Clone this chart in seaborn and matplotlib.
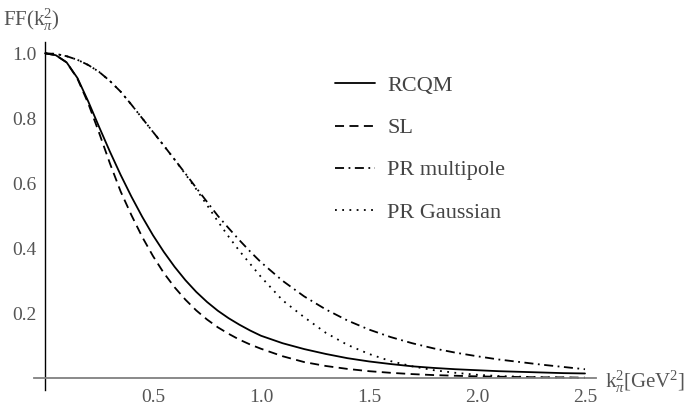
import matplotlib
matplotlib.use("Agg")
import matplotlib.pyplot as plt
import seaborn as sns
from matplotlib.ticker import MultipleLocator, FixedLocator

# values
k2 = [0.0, 0.05, 0.1, 0.15, 0.2, 0.25, 0.3, 0.35, 0.4, 0.45, 0.5, 0.55, 0.6, 0.65,
      0.7, 0.75, 0.8, 0.85, 0.9, 0.95, 1.0,
      1.1, 1.2, 1.3, 1.4, 1.5, 1.6, 1.7, 1.8, 1.9, 2.0, 2.1, 2.2, 2.3, 2.4, 2.5]

ff_rcqm = [1.0, 0.994, 0.972, 0.924, 0.852, 0.774, 0.698, 0.626, 0.559, 0.497, 0.440,
           0.389, 0.343, 0.302, 0.266, 0.235, 0.208, 0.185, 0.165, 0.147, 0.131,
           0.108, 0.090, 0.075, 0.062, 0.052, 0.044, 0.037, 0.032, 0.028, 0.025,
           0.022, 0.020, 0.018, 0.016, 0.015]

ff_sl = [1.0, 0.994, 0.972, 0.922, 0.846, 0.756, 0.662, 0.575, 0.502, 0.435, 0.376,
         0.324, 0.280, 0.242, 0.209, 0.181, 0.157, 0.137, 0.119, 0.104, 0.091,
         0.068, 0.050, 0.038, 0.029, 0.022, 0.017, 0.013, 0.010, 0.008, 0.006,
         0.005, 0.004, 0.003, 0.003, 0.002]

ff_multipole = [1.0, 0.998, 0.991, 0.980, 0.964, 0.943, 0.915, 0.882, 0.842, 0.800, 0.758,
                0.716, 0.673, 0.630, 0.586, 0.543, 0.500, 0.462, 0.425, 0.390, 0.357,
                0.300, 0.252, 0.212, 0.178, 0.150, 0.127, 0.108, 0.092, 0.079, 0.068,
                0.058, 0.050, 0.042, 0.035, 0.028]

ff_gaussian = [1.0, 0.998, 0.991, 0.980, 0.964, 0.943, 0.915, 0.882, 0.842, 0.800, 0.758,
               0.716, 0.673, 0.628, 0.582, 0.533, 0.483, 0.436, 0.392, 0.352, 0.312,
               0.240, 0.188, 0.140, 0.103, 0.075, 0.053, 0.037, 0.025, 0.017, 0.011,
               0.007, 0.005, 0.003, 0.002, 0.001]

labels = ["RCQM", "SL", "PR multipole", "PR Gaussian"]
styles = ["-", (0, (5, 3)), (0, (5, 2.5, 1, 2.5)), (0, (1, 3))]

sns.set_style("white")
plt.rcParams["font.family"] = ["Liberation Serif", "DejaVu Serif"]
plt.rcParams["mathtext.fontset"] = "custom"
plt.rcParams["mathtext.rm"] = "Liberation Serif"
plt.rcParams["mathtext.it"] = "Liberation Serif:italic"

fig = plt.figure(figsize=(6.97, 4.12), dpi=100)
ax = fig.add_axes([0.0491, 0.0541, 0.8057, 0.8442])

for vals, name, ls in zip([ff_rcqm, ff_sl, ff_multipole, ff_gaussian], labels, styles):
    sns.lineplot(x=k2, y=vals, ax=ax, color="black", linewidth=1.3,
                 linestyle=ls, label=name, sort=False, estimator=None)

ax.set_xlim(-0.05, 2.55)
ax.set_ylim(-0.035, 1.035)

# axes crossing at the origin, mathematica style
ax.spines["left"].set_position(("data", 0))
ax.spines["bottom"].set_position(("data", 0))
ax.spines["right"].set_visible(False)
ax.spines["top"].set_visible(False)
ax.spines["left"].set_color("black")
ax.spines["left"].set_linewidth(1.0)
ax.spines["bottom"].set_color("#808080")
ax.spines["bottom"].set_linewidth(1.3)

ax.xaxis.set_major_locator(FixedLocator([0.5, 1.0, 1.5, 2.0, 2.5]))
ax.xaxis.set_minor_locator(MultipleLocator(0.1))
ax.yaxis.set_major_locator(FixedLocator([0.2, 0.4, 0.6, 0.8, 1.0]))
ax.yaxis.set_minor_locator(MultipleLocator(0.05))
ax.xaxis.set_major_formatter(plt.FormatStrFormatter("%.1f"))
ax.yaxis.set_major_formatter(plt.FormatStrFormatter("%.1f"))

ax.tick_params(axis="x", which="major", direction="in", length=5, width=0.8,
               color="#555555", labelsize=14, labelcolor="#555555", pad=8)
ax.tick_params(axis="x", which="minor", direction="in", length=3, width=0.8, color="#555555")
ax.tick_params(axis="y", which="major", direction="in", length=5, width=0.8,
               color="#333333", labelsize=14, labelcolor="#555555", pad=6)
ax.tick_params(axis="y", which="minor", direction="in", length=3, width=0.8, color="#333333")
ax.set_xlabel("")
ax.set_ylabel("")

ax.legend(loc="upper left", bbox_to_anchor=(0.5356, 0.903), frameon=False,
          fontsize=16, handlelength=1.8, handletextpad=0.55, labelspacing=0.97,
          borderpad=0, borderaxespad=0, labelcolor="#444444")

fig.text(0.004, 0.951, r"FF($\mathregular{k}_{\pi}^{2}$)", fontsize=15,
         color="#555555", ha="left", va="center")
fig.text(0.868, 0.073, r"$\mathregular{k}_{\pi}^{2}$[GeV$^{2}$]", fontsize=15,
         color="#555555", ha="left", va="center")

fig.savefig("out.png", dpi=100)
